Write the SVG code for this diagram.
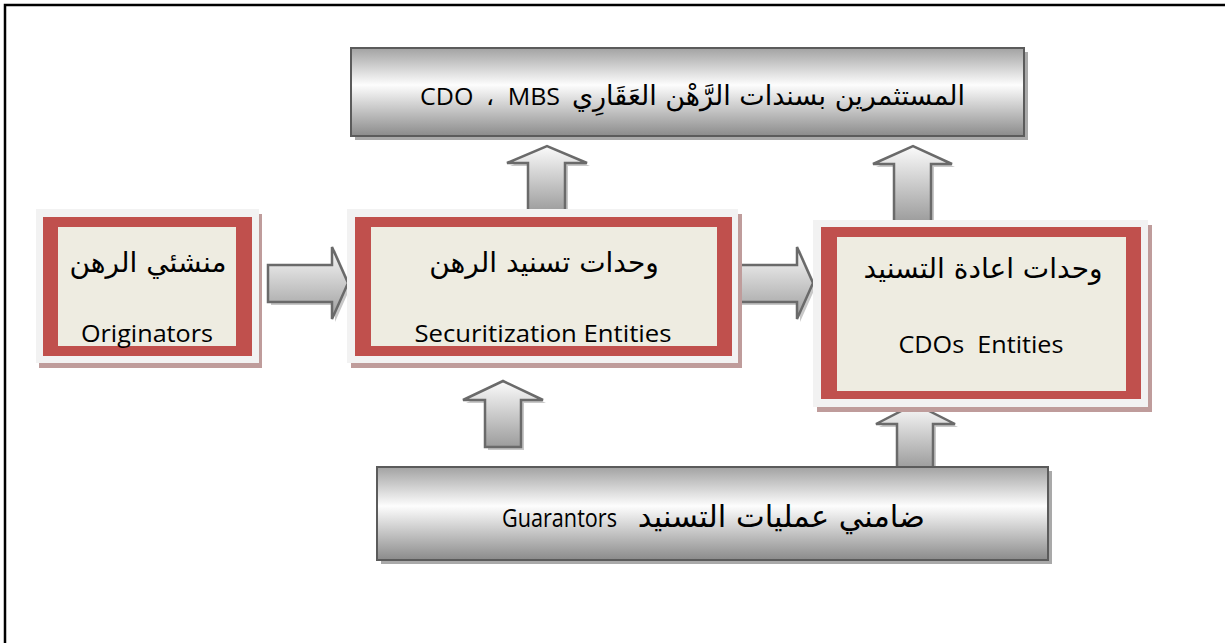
<svg xmlns="http://www.w3.org/2000/svg" width="1225" height="643" viewBox="0 0 1225 643">
  <style>
    .frame { fill: none; stroke: #000; stroke-width: 2.5; }
    .gbox { fill: url(#gboxFill); stroke: #5b5b5b; stroke-width: 2; }
    .gshadow { fill: #a9a9a9; }
    .outer { fill: #f2f2f2; }
    .oshadow { fill: #bf9c9b; }
    .red { fill: #c0504d; }
    .inner { fill: #eeece1; }
    .arrow { fill: url(#arrowFill); stroke: #6a6a6a; stroke-width: 2.5; stroke-linejoin: miter; }
    .ashadow { fill: #c8c8c8; }
    .ar { font-family: "DejaVu Sans", sans-serif; fill: #000; }
    .lat { font-family: "Open Sans", "Liberation Sans", sans-serif; fill: #000; }
  </style>
  <defs>
    <linearGradient id="gboxFill" x1="0" y1="0" x2="0" y2="1">
      <stop offset="0" stop-color="#a2a2a2"/>
      <stop offset="0.42" stop-color="#fdfdfd"/>
      <stop offset="1" stop-color="#8b8b8b"/>
    </linearGradient>
    <linearGradient id="arrowFill" x1="0" y1="0" x2="0" y2="1">
      <stop offset="0" stop-color="#fbfbfb"/>
      <stop offset="1" stop-color="#9c9c9c"/>
    </linearGradient>
  </defs>

  <!-- page border -->
  <rect class="frame" x="5" y="5" width="1240" height="660"/>

  <!-- block arrows -->
  <g id="connectors">
    <!-- originators -> securitization -->
    <path class="ashadow" d="M271,268 H335 V250 L351,286 L335,322 V305 H271 Z"/>
    <path class="arrow" d="M268,265 H332 V247 L348,283 L332,319 V302 H268 Z"/>
    <!-- securitization -> CDOs -->
    <path class="ashadow" d="M738,268 H800 V250 L816,286 L800,322 V305 H738 Z"/>
    <path class="arrow" d="M735,265 H797 V247 L813,283 L797,319 V302 H735 Z"/>
    <!-- securitization -> investors -->
    <path class="ashadow" d="M531,215 V166 H510 L550,149 L590,166 H568 V215 Z"/>
    <path class="arrow" d="M528,212 V163 H507 L547,146 L587,163 H565 V212 Z"/>
    <!-- CDOs -> investors -->
    <path class="ashadow" d="M897,225 V167 H876 L916,149 L955,167 H934 V225 Z"/>
    <path class="arrow" d="M894,222 V164 H873 L913,146 L952,164 H931 V222 Z"/>
    <!-- guarantors -> securitization -->
    <path class="ashadow" d="M488,450 V403 H466 L506,384 L546,403 H524 V450 Z"/>
    <path class="arrow" d="M485,447 V400 H463 L503,381 L543,400 H521 V447 Z"/>
    <!-- guarantors -> CDOs -->
    <path class="ashadow" d="M900,470 V427 H879 L918,407 L958,427 H936 V470 Z"/>
    <path class="arrow" d="M897,468 V424 H876 L915,404 L955,424 H933 V468 Z"/>
  </g>

  <!-- investors -->
  <g id="investors">
    <rect class="gshadow" x="355" y="52" width="673" height="88"/>
    <rect class="gbox" x="351" y="48" width="673" height="88"/>
    <text class="ar" x="965" y="105" font-size="27" text-anchor="start" direction="rtl">المستثمرين بسندات الرَّهْن العَقَارِي</text>
    <text class="lat" x="420" y="105" font-size="24" textLength="140" lengthAdjust="spacingAndGlyphs" xml:space="preserve">CDO  ،  MBS</text>
  </g>

  <!-- originators -->
  <g id="originators">
    <rect class="oshadow" x="39" y="214" width="223" height="154"/>
    <rect class="outer" x="36" y="209" width="223" height="154"/>
    <rect class="red" x="43" y="217" width="209" height="139"/>
    <rect class="inner" x="58" y="227" width="178" height="119"/>
    <text class="ar" x="148" y="272" font-size="28" text-anchor="middle" direction="rtl">منشئي الرهن</text>
    <text class="lat" x="147" y="342" font-size="23" text-anchor="middle" textLength="132" lengthAdjust="spacingAndGlyphs">Originators</text>
  </g>

  <!-- securitization entities -->
  <g id="securitization">
    <rect class="oshadow" x="351" y="214" width="391" height="154"/>
    <rect class="outer" x="347" y="209" width="391" height="154"/>
    <rect class="red" x="355" y="217" width="377" height="139"/>
    <rect class="inner" x="371" y="227" width="346" height="119"/>
    <text class="ar" x="544" y="272" font-size="28" text-anchor="middle" direction="rtl">وحدات تسنيد الرهن</text>
    <text class="lat" x="543" y="342" font-size="23" text-anchor="middle" textLength="257" lengthAdjust="spacingAndGlyphs">Securitization Entities</text>
  </g>

  <!-- CDO entities -->
  <g id="cdos">
    <rect class="oshadow" x="817" y="225" width="335" height="187"/>
    <rect class="outer" x="813" y="220" width="335" height="187"/>
    <rect class="red" x="821" y="227" width="320" height="172"/>
    <rect class="inner" x="837" y="237" width="289" height="154"/>
    <text class="ar" x="983" y="278" font-size="28" text-anchor="middle" direction="rtl">وحدات اعادة التسنيد</text>
    <text class="lat" x="981" y="353" font-size="23" text-anchor="middle" textLength="165" lengthAdjust="spacingAndGlyphs" xml:space="preserve">CDOs  Entities</text>
  </g>

  <!-- guarantors -->
  <g id="guarantors">
    <rect class="gshadow" x="381" y="471" width="671" height="93"/>
    <rect class="gbox" x="377" y="467" width="671" height="93"/>
    <text class="ar" x="925" y="527" font-size="30.5" text-anchor="start" direction="rtl">ضامني عمليات التسنيد</text>
    <text class="lat" x="502" y="527" font-size="26" textLength="115" lengthAdjust="spacingAndGlyphs">Guarantors</text>
  </g>
</svg>
